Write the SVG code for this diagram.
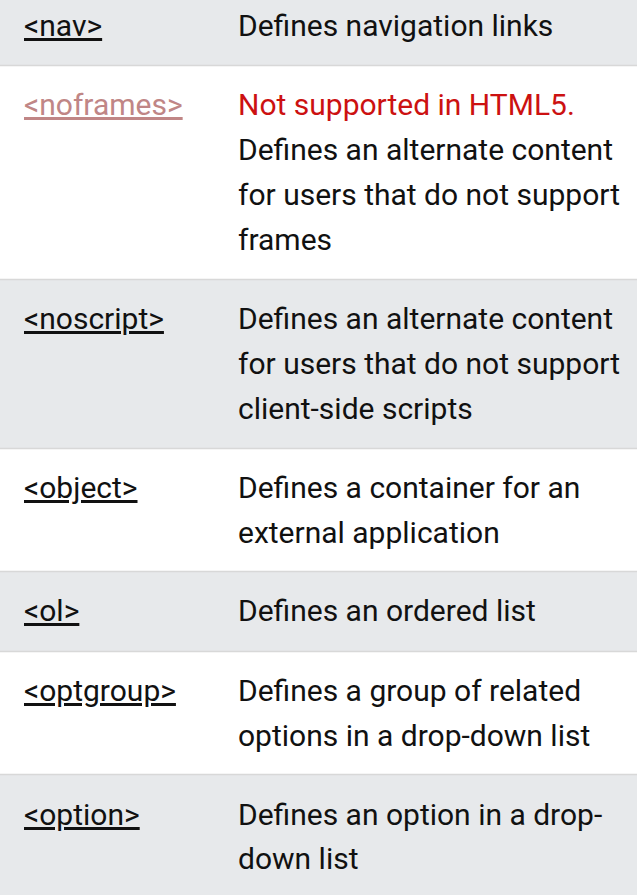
<svg xmlns="http://www.w3.org/2000/svg" width="637" height="895" viewBox="0 0 637 895">
<style>
text{font-family:Roboto,"Liberation Sans",sans-serif;font-size:30px;fill:#111}
.tag{text-decoration:underline}
.dead{fill:#c08686;text-decoration:underline}
.red{fill:#cc1111}
.g{fill:#e7e9eb}
.w{fill:#ffffff}
.b{stroke:#d8d8d8;stroke-width:1.6}
</style>
<rect x="0" y="0" width="637" height="895" fill="#ffffff"/>
<g id="row-nav">
<rect class="g" x="0" y="-20" width="637" height="85"/>
<text class="tag" x="24" y="36">&lt;nav&gt;</text>
<text x="238" y="36">Defines navigation links</text>
</g>
<g id="row-noframes">
<rect class="w" x="0" y="66" width="637" height="213"/>
<text class="dead" x="24" y="115">&lt;noframes&gt;</text>
<text class="red" x="238" y="115">Not supported in HTML5.</text>
<text x="238" y="160">Defines an alternate content</text>
<text x="238" y="205">for users that do not support</text>
<text x="238" y="250">frames</text>
</g>
<g id="row-noscript">
<rect class="g" x="0" y="280" width="637" height="168"/>
<text class="tag" x="24" y="329">&lt;noscript&gt;</text>
<text x="238" y="329">Defines an alternate content</text>
<text x="238" y="374">for users that do not support</text>
<text x="238" y="419">client-side scripts</text>
</g>
<g id="row-object">
<rect class="w" x="0" y="449" width="637" height="122"/>
<text class="tag" x="24" y="498">&lt;object&gt;</text>
<text x="238" y="498">Defines a container for an</text>
<text x="238" y="543">external application</text>
</g>
<g id="row-ol">
<rect class="g" x="0" y="572" width="637" height="79"/>
<text class="tag" x="24" y="621">&lt;ol&gt;</text>
<text x="238" y="621">Defines an ordered list</text>
</g>
<g id="row-optgroup">
<rect class="w" x="0" y="652" width="637" height="122"/>
<text class="tag" x="24" y="701">&lt;optgroup&gt;</text>
<text x="238" y="701">Defines a group of related</text>
<text x="238" y="746">options in a drop-down list</text>
</g>
<g id="row-option">
<rect class="g" x="0" y="775" width="637" height="140"/>
<text class="tag" x="24" y="825">&lt;option&gt;</text>
<text x="238" y="825">Defines an option in a drop-</text>
<text x="238" y="869">down list</text>
</g>
<g id="borders">
<line class="b" x1="0" y1="65.5" x2="637" y2="65.5"/>
<line class="b" x1="0" y1="279.5" x2="637" y2="279.5"/>
<line class="b" x1="0" y1="448.5" x2="637" y2="448.5"/>
<line class="b" x1="0" y1="571.5" x2="637" y2="571.5"/>
<line class="b" x1="0" y1="651.5" x2="637" y2="651.5"/>
<line class="b" x1="0" y1="774.5" x2="637" y2="774.5"/>
</g>
</svg>
